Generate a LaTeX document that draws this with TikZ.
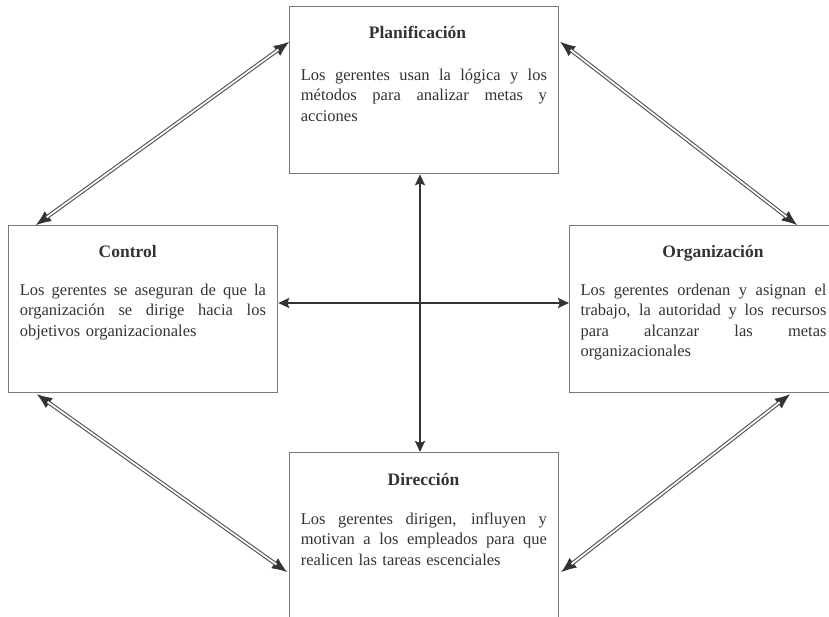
\documentclass[tikz,border=0pt]{standalone}
\usepackage{fontspec}
\setmainfont{Liberation Serif}
\usetikzlibrary{arrows.meta,calc}
% a body line stretched to the full text width (font spacing restored so it can stretch)
\newcommand{\fullline}[1]{{\spaceskip=0pt\xspaceskip=0pt\makebox[246pt][s]{#1}}}
\definecolor{ink}{HTML}{333333}
\definecolor{frame}{HTML}{7A7A7A}
\begin{document}
\begin{tikzpicture}[x=1pt,y=-1pt,
  panel/.style={draw=frame, line width=1.3pt, rectangle, minimum width=269pt,
    minimum height=167pt, inner sep=0pt, anchor=north west},
  heading/.style={font=\fontsize{17.5}{20}\selectfont\bfseries, text=ink,
    anchor=base, inner sep=0pt},
  body/.style={font=\fontsize{16.5}{20.5}\selectfont, text=ink, text width=246pt,
    align=left, anchor=north west, inner sep=0pt},
  cross/.style={draw=ink, line width=2.8pt,
    {Stealth[length=11pt,width=10pt,inset=2pt]}-{Stealth[length=11pt,width=10pt,inset=2pt]}},
  tips/.style={draw=ink, line width=0.6pt,
    {Latex[length=15pt,width=12pt]}-{Latex[length=15pt,width=12pt]}},
  shaft/.style={draw=ink!85, line width=1.1pt, double=white, double distance=1.7pt,
    shorten <=13pt, shorten >=13pt}
]
\useasboundingbox (0,0) rectangle (829,617);
\clip (0,0) rectangle (829,617);
\fill[white] (0,0) rectangle (829,617);

% the four function boxes
\node[panel] (plan) at (289,6) {};
\node[panel] (ctrl) at (8,225) {};
\node[panel] (org) at (569,225) {};
\node[panel] (dir) at (289,452) {};

% headings
\node[heading] (planh) at ($(plan.north west)+(128.5,33)$) {Planificación};
\node[heading] (ctrlh) at ($(ctrl.north west)+(119.7,33)$) {Control};
\node[heading] (orgh) at ($(org.north west)+(144,33)$) {Organización};
\node[heading] (dirh) at ($(dir.north west)+(134.5,33)$) {Dirección};

% descriptions
\node[body] (planb) at ($(plan.north west)+(11.7,74-14.35)$)
  {\noindent\strut\fullline{Los gerentes usan la lógica y los}\\
   \fullline{métodos para analizar metas y}\\
   acciones};
\node[body] (ctrlb) at ($(ctrl.north west)+(11.7,70-14.35)$)
  {\noindent\strut\fullline{Los gerentes se aseguran de que la}\\
   \fullline{organización se dirige hacia los}\\
   objetivos organizacionales};
\node[body] (orgb) at ($(org.north west)+(11.3,70-14.35)$)
  {\noindent\strut\fullline{Los gerentes ordenan y asignan el}\\
   \fullline{trabajo, la autoridad y los recursos}\\
   \fullline{para alcanzar las metas}\\
   organizacionales};
\node[body] (dirb) at ($(dir.north west)+(11.7,72-14.35)$)
  {\noindent\strut\fullline{Los gerentes dirigen, influyen y}\\
   \fullline{motivan a los empleados para que}\\
   realicen las tareas escenciales};

% central cross
\coordinate (c) at (420,303);
\draw[cross] (c |- plan.south) -- (c |- dir.north);
\draw[cross] (ctrl.east |- c) -- (org.west |- c);

% diagonal double arrows between neighbouring functions
\coordinate (tl1) at ($(ctrl.north west)+(28,0)$);
\coordinate (tl2) at ($(plan.north west)+(0,36)$);
\coordinate (tr1) at ($(plan.north east)+(1,36)$);
\coordinate (tr2) at ($(org.north west)+(228,0)$);
\coordinate (bl1) at ($(ctrl.south west)+(29,1)$);
\coordinate (bl2) at ($(dir.north west)+(-2,120)$);
\coordinate (br1) at ($(org.south west)+(221,1)$);
\coordinate (br2) at ($(dir.north east)+(2,120)$);
\foreach \a/\b in {tl1/tl2, tr1/tr2, bl1/bl2, br1/br2}{
  \draw[tips] (\a) -- (\b);
  \draw[shaft] (\a) -- (\b);
}
\end{tikzpicture}
\end{document}
